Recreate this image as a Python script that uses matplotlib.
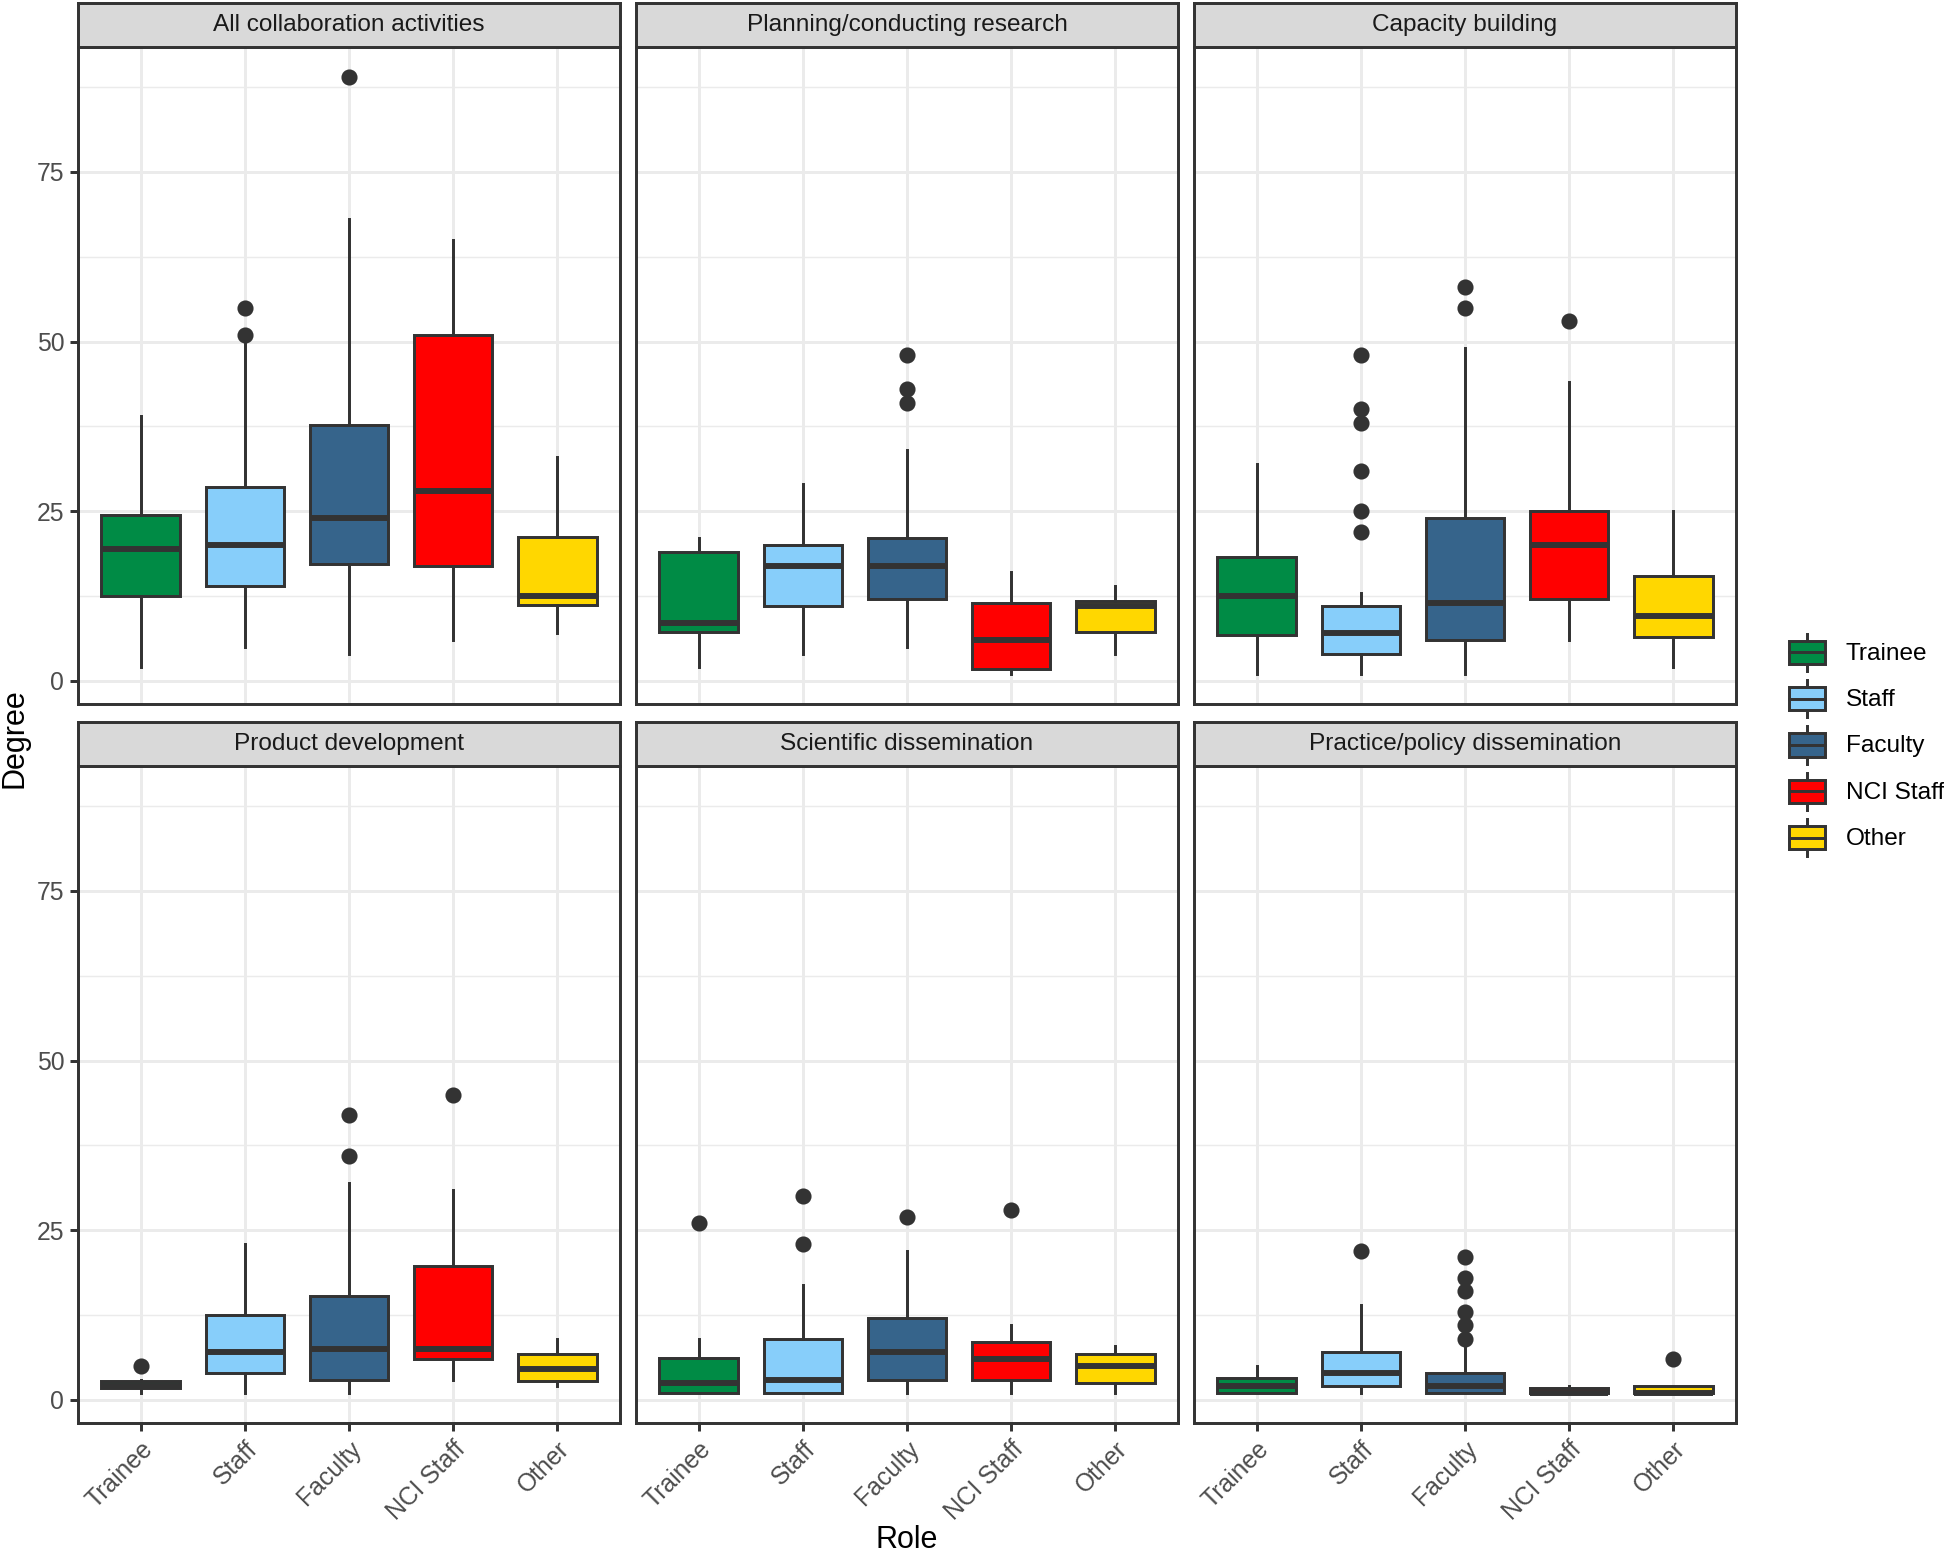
import matplotlib
matplotlib.use('Agg')
import matplotlib.pyplot as plt
from matplotlib.patches import Rectangle, Patch
from matplotlib.lines import Line2D
from matplotlib.legend_handler import HandlerBase
from matplotlib.ticker import FixedLocator

plt.rcParams['font.family'] = ['Liberation Sans', 'DejaVu Sans']

# ---------------- data ----------------
roles = ["Trainee", "Staff", "Faculty", "NCI Staff", "Other"]
role_colors = ["#008B45", "#87CEFA", "#36648B", "#FF0000", "#FFD700"]
facets = ["All collaboration activities", "Planning/conducting research",
          "Capacity building", "Product development",
          "Scientific dissemination", "Practice/policy dissemination"]

# one row per facet, one value per role
whislo = [[2, 5, 4, 6, 7],
          [2, 4, 5, 1, 4],
          [1, 1, 1, 6, 2],
          [1, 1, 1, 3, 2],
          [1, 1, 1, 1, 1],
          [1, 1, 1, 1, 1]]
q1 = [[12.5, 14, 17.25, 17, 11.25],
      [7.25, 11, 12, 1.75, 7.25],
      [6.75, 4, 6, 12, 6.5],
      [1.75, 4, 3, 6, 2.75],
      [1, 1, 3, 3, 2.5],
      [1, 2, 1, 1, 1]]
med = [[19.5, 20, 24, 28, 12.5],
       [8.5, 17, 17, 6, 11],
       [12.5, 7, 11.5, 20, 9.5],
       [2, 7, 7.5, 7.5, 4.5],
       [2.5, 3, 7, 6, 5],
       [2, 4, 2, 1, 1]]
q3 = [[24.5, 28.5, 37.75, 51, 21.25],
      [19, 20, 21, 11.5, 11.75],
      [18.25, 11, 24, 25, 15.5],
      [2.75, 12.5, 15.25, 19.75, 6.75],
      [6.25, 9, 12, 8.5, 6.75],
      [3.25, 7, 4, 1.75, 2]]
whishi = [[39, 50, 68, 65, 33],
          [21, 29, 34, 16, 14],
          [32, 13, 49, 44, 25],
          [3, 23, 32, 31, 9],
          [9, 17, 22, 11, 8],
          [5, 14, 8, 2, 2]]
fliers = [[[], [51, 55], [89], [], []],
          [[], [], [41, 43, 48], [], []],
          [[], [22, 25, 31, 38, 40, 48], [55, 58], [53], []],
          [[5], [], [36, 42], [45], []],
          [[26], [23, 30], [27], [28], []],
          [[], [22], [9, 11, 13, 16, 18, 21], [], [6]]]

y_ticks = [0, 25, 50, 75]
y_minor = [12.5, 37.5, 62.5, 87.5]

# ---------------- style ----------------
LINE = "#333333"
GRID = "#EBEBEB"
LW = 1.07

W, H = 1944, 1556
fig = plt.figure(figsize=(W / 200, H / 200), dpi=200)
fig.patch.set_facecolor("white")

lefts = [78, 636, 1194]
pw = 542
tops = [47, 766]
ph = 657
strip_h = 44.5

for i, name in enumerate(facets):
    r, c = divmod(i, 3)
    x0 = lefts[c]
    yt = tops[r]
    ax = fig.add_axes([x0 / W, 1 - (yt + ph) / H, pw / W, ph / H])
    sax = fig.add_axes([x0 / W, 1 - yt / H, pw / W, strip_h / H])

    stats = []
    for j in range(len(roles)):
        stats.append(dict(whislo=whislo[i][j], q1=q1[i][j], med=med[i][j],
                          q3=q3[i][j], whishi=whishi[i][j], fliers=fliers[i][j]))
    res = ax.bxp(stats, positions=list(range(1, len(roles) + 1)), widths=0.75,
                 patch_artist=True, showcaps=False, manage_ticks=False,
                 boxprops=dict(edgecolor=LINE, linewidth=LW),
                 medianprops=dict(color=LINE, linewidth=2 * LW, solid_capstyle='butt'),
                 whiskerprops=dict(color=LINE, linewidth=LW),
                 flierprops=dict(marker='o', markerfacecolor=LINE,
                                 markeredgecolor=LINE, markersize=4.8))
    for b, col in zip(res['boxes'], role_colors):
        b.set_facecolor(col)

    ax.set_xlim(0.4, 5.6)
    ax.set_ylim(-3.4, 93.4)
    ax.set_axisbelow(True)
    ax.set_xticks(list(range(1, len(roles) + 1)))
    ax.set_yticks(y_ticks)
    ax.yaxis.set_minor_locator(FixedLocator(y_minor))
    ax.grid(which='major', color=GRID, linewidth=LW)
    ax.grid(which='minor', axis='y', color=GRID, linewidth=LW / 2)
    ax.tick_params(which='minor', length=0)
    ax.tick_params(which='major', direction='out', length=2.75, width=LW,
                   color=LINE, labelsize=8.9, labelcolor='#4D4D4D', pad=2.2)
    for s in ax.spines.values():
        s.set_color(LINE)
        s.set_linewidth(LW)

    if r == 1:
        ax.set_xticklabels(roles, rotation=45, ha='right', va='top',
                           rotation_mode='anchor')
    else:
        ax.tick_params(axis='x', length=0, labelbottom=False)
    if c == 0:
        ax.set_yticklabels([str(v) for v in y_ticks])
    else:
        ax.tick_params(axis='y', length=0, labelleft=False)

    sax.set_facecolor('#D9D9D9')
    sax.set_xticks([])
    sax.set_yticks([])
    for s in sax.spines.values():
        s.set_color(LINE)
        s.set_linewidth(LW)
    sax.text(0.5, 0.5, name, transform=sax.transAxes, ha='center', va='center',
             fontsize=8.8, color='#1A1A1A')

fig.text(14 / W, 1 - 738 / H, "Degree", rotation=90, ha='center', va='center',
         fontsize=11, color='black')
fig.text(907 / W, 1 - 1540 / H, "Role", ha='center', va='center',
         fontsize=11, color='black')


class BoxKeyHandler(HandlerBase):
    def create_artists(self, legend, orig_handle, xdescent, ydescent, width,
                       height, fontsize, trans):
        fc = orig_handle.get_facecolor()
        x0, y0 = -xdescent, -ydescent
        rect = Rectangle((x0 + 0.125 * width, y0 + 0.25 * height), 0.75 * width,
                         0.5 * height, facecolor=fc, edgecolor=LINE,
                         linewidth=LW, transform=trans)
        w1 = Line2D([x0 + 0.5 * width] * 2, [y0 + 0.1 * height, y0 + 0.25 * height],
                    color=LINE, lw=LW, transform=trans)
        w2 = Line2D([x0 + 0.5 * width] * 2, [y0 + 0.75 * height, y0 + 0.9 * height],
                    color=LINE, lw=LW, transform=trans)
        md = Line2D([x0 + 0.125 * width, x0 + 0.875 * width], [y0 + 0.5 * height] * 2,
                    color=LINE, lw=LW, transform=trans)
        return [w1, w2, rect, md]


handles = [Patch(facecolor=col, edgecolor=LINE) for col in role_colors]
fig.legend(handles, roles, loc='center left',
           bbox_to_anchor=(1783 / W, 1 - 745 / H), frameon=False, fontsize=8.8,
           handlelength=1.96, handleheight=2.54, labelspacing=0,
           handletextpad=0.6, borderpad=0, borderaxespad=0,
           handler_map={Patch: BoxKeyHandler()})

fig.savefig('out.png', dpi=200, facecolor='white')
